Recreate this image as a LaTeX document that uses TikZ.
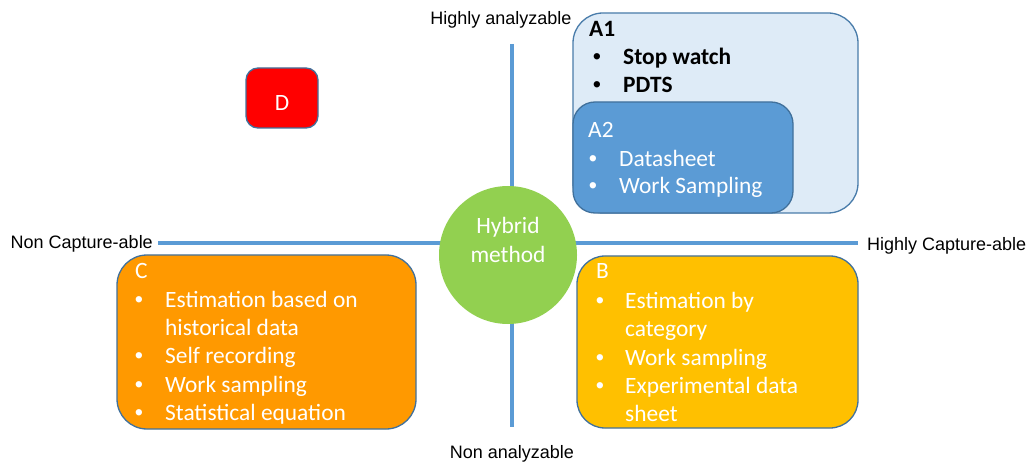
\documentclass[tikz,border=0pt]{standalone}
\usepackage{fontspec}
\setmainfont{Carlito}
\newfontfamily\labelfont{Liberation Sans}
\newcommand\dotmark{{\labelfont\textbullet}}
\begin{document}
\begin{tikzpicture}[x=1pt,y=-1pt,
  axisline/.style={draw=axisblue,line width=4pt},
  quad/.style={draw=edgeblue,line width=1.3pt},
  txt/.style={inner sep=0pt,font=\fontsize{23.4}{28}\selectfont},
  lbl/.style={inner sep=0pt,font=\labelfont\fontsize{18}{21}\selectfont,text=black}]
\definecolor{axisblue}{HTML}{5B9BD5}
\definecolor{edgeblue}{HTML}{41719C}
\definecolor{lightblue}{HTML}{DEEBF7}
\definecolor{midblue}{HTML}{5B9BD5}
\definecolor{hgreen}{HTML}{92D050}
\definecolor{corange}{HTML}{FF9900}
\definecolor{bgold}{HTML}{FFC000}
\definecolor{dred}{HTML}{FF0000}
\useasboundingbox[fill=white] (0,0) rectangle (1031,465);

% axes
\coordinate (vt) at (512,44);
\coordinate (vb) at (512,427);
\coordinate (hl) at (158,243);
\coordinate (hr) at (858,243);
\draw[axisline] (vt) -- (vb);
\draw[axisline] (hl) -- (hr);

% axis labels
\node[lbl,anchor=base] (top) at (501,25) {Highly analyzable};
\node[lbl,anchor=base] (bottom) at (512,458) {Non analyzable};
\node[lbl,anchor=base east] (left) at (153,249) {Non Capture-able};
\node[lbl,anchor=base west] (right) at (867,251) {Highly Capture-able};

% centre
\node[circle,fill=hgreen,minimum size=138pt,inner sep=0pt] (hyb) at (508,255) {};
\node[txt,text=white,anchor=base] (hyb1) at (508,234) {Hybrid};
\node[txt,text=white,anchor=base] (hyb2) at (508,262) {method};

% quadrant D
\draw[quad,fill=dred,rounded corners=12pt] (246,68) rectangle (318,128);
\node[txt,text=white] (d) at (282,103) {D};

% quadrant A1 / A2
\draw[quad,draw=axisblue!80!black,fill=lightblue,rounded corners=30pt] (573,13) rectangle (858,213);
\node[txt,anchor=base west] (a1) at (589,37) {\bfseries A1};
\node[txt,anchor=base] (a1b1) at (597,65) {\dotmark};
\node[txt,anchor=base west] (a11) at (623,65) {\bfseries Stop watch};
\node[txt,anchor=base] (a1b2) at (597,93) {\dotmark};
\node[txt,anchor=base west] (a12) at (623,93) {\bfseries PDTS};

\draw[quad,fill=midblue,rounded corners=22pt] (573,102) rectangle (793,213);
\node[txt,text=white,anchor=base west] (a2) at (588,138) {A2};
\node[txt,text=white,anchor=base] (a2b1) at (593,167) {\dotmark};
\node[txt,text=white,anchor=base west] (a21) at (619,167) {Datasheet};
\node[txt,text=white,anchor=base] (a2b2) at (593,194) {\dotmark};
\node[txt,text=white,anchor=base west] (a22) at (619,194) {Work Sampling};

% quadrant C
\draw[quad,fill=corange,rounded corners=30pt] (117,255) rectangle (416,429);
\node[txt,text=white,anchor=base west] (c) at (135,279) {C};
\node[txt,text=white,anchor=base] (cb1) at (139,307) {\dotmark};
\node[txt,text=white,anchor=base west] (c1) at (165,307) {Estimation based on};
\node[txt,text=white,anchor=base west] (c1b) at (165,335) {historical data};
\node[txt,text=white,anchor=base] (cb2) at (139,363.5) {\dotmark};
\node[txt,text=white,anchor=base west] (c2) at (165,363.5) {Self recording};
\node[txt,text=white,anchor=base] (cb3) at (139,392) {\dotmark};
\node[txt,text=white,anchor=base west] (c3) at (165,392) {Work sampling};
\node[txt,text=white,anchor=base] (cb4) at (139,420) {\dotmark};
\node[txt,text=white,anchor=base west] (c4) at (165,420) {Statistical equation};

% quadrant B
\draw[quad,fill=bgold,rounded corners=28pt] (577,256) rectangle (858,428);
\node[txt,text=white,anchor=base west] (b) at (596,279) {B};
\node[txt,text=white,anchor=base] (bb1) at (600,308) {\dotmark};
\node[txt,text=white,anchor=base west] (b1) at (625,308) {Estimation by};
\node[txt,text=white,anchor=base west] (b1b) at (625,336) {category};
\node[txt,text=white,anchor=base] (bb2) at (600,365) {\dotmark};
\node[txt,text=white,anchor=base west] (b2) at (625,365) {Work sampling};
\node[txt,text=white,anchor=base] (bb3) at (600,393) {\dotmark};
\node[txt,text=white,anchor=base west] (b3) at (625,393) {Experimental data};
\node[txt,text=white,anchor=base west] (b3b) at (625,421) {sheet};
\end{tikzpicture}
\end{document}
